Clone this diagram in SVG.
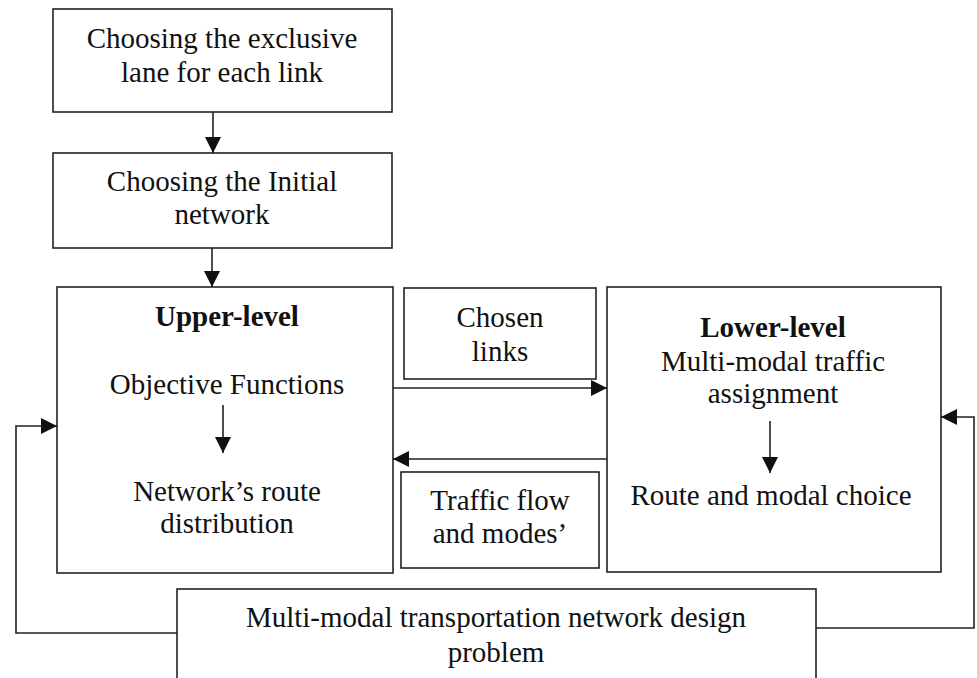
<svg xmlns="http://www.w3.org/2000/svg" width="977" height="678" viewBox="0 0 977 678">
<style>
.box{fill:#fff;stroke:#222;stroke-width:1.6}
.t{font-family:"Liberation Serif","Times New Roman",serif;font-size:29px;fill:#111;text-anchor:middle}
.b{font-weight:bold}
.c{fill:none;stroke:#222;stroke-width:1.6}
</style>
<defs>
<marker id="ah" markerUnits="userSpaceOnUse" markerWidth="16" markerHeight="16" viewBox="0 0 16 16" refX="16" refY="8" orient="auto">
<path d="M0,0 L16,8 L0,16 Z" fill="#111"/>
</marker>
</defs>
<g id="n1">
<rect class="box" x="53" y="9" width="339" height="103"/>
<text class="t" x="222" y="48">Choosing the exclusive</text>
<text class="t" x="222" y="82">lane for each link</text>
</g>
<g id="n2">
<rect class="box" x="53" y="153" width="339" height="95"/>
<text class="t" x="222" y="191">Choosing the Initial</text>
<text class="t" x="222" y="224">network</text>
</g>
<g id="upper">
<rect class="box" x="57" y="287" width="336" height="286"/>
<text class="t b" x="227" y="326">Upper-level</text>
<text class="t" x="227" y="394">Objective Functions</text>
<text class="t" x="227" y="501">Network’s route</text>
<text class="t" x="227" y="533">distribution</text>
</g>
<g id="chosen">
<rect class="box" x="404" y="288" width="192" height="91"/>
<text class="t" x="500" y="327">Chosen</text>
<text class="t" x="500" y="361">links</text>
</g>
<g id="traffic">
<rect class="box" x="401" y="472" width="198" height="96"/>
<text class="t" x="500" y="510">Traffic flow</text>
<text class="t" x="500" y="543">and modes’</text>
</g>
<g id="lower">
<rect class="box" x="607" y="287" width="334" height="285"/>
<text class="t b" x="773" y="337">Lower-level</text>
<text class="t" x="773" y="371">Multi-modal traffic</text>
<text class="t" x="773" y="403">assignment</text>
<text class="t" x="771" y="505">Route and modal choice</text>
</g>
<g id="problem">
<rect class="box" x="177" y="589" width="639" height="100"/>
<text class="t" x="496" y="627">Multi-modal transportation network design</text>
<text class="t" x="496" y="662">problem</text>
</g>
<g id="connectors">
<line class="c" x1="213" y1="112" x2="213" y2="153" marker-end="url(#ah)"/>
<line class="c" x1="212" y1="248" x2="212" y2="287" marker-end="url(#ah)"/>
<line class="c" x1="223" y1="405" x2="223" y2="453" marker-end="url(#ah)"/>
<line class="c" x1="770" y1="421" x2="770" y2="473" marker-end="url(#ah)"/>
<line class="c" x1="393" y1="388" x2="607" y2="388" marker-end="url(#ah)"/>
<line class="c" x1="607" y1="459" x2="393" y2="459" marker-end="url(#ah)"/>
<polyline class="c" points="177,633 16,633 16,426 57,426" marker-end="url(#ah)"/>
<polyline class="c" points="816,628 974,628 974,417 941,417" marker-end="url(#ah)"/>
</g>
</svg>
